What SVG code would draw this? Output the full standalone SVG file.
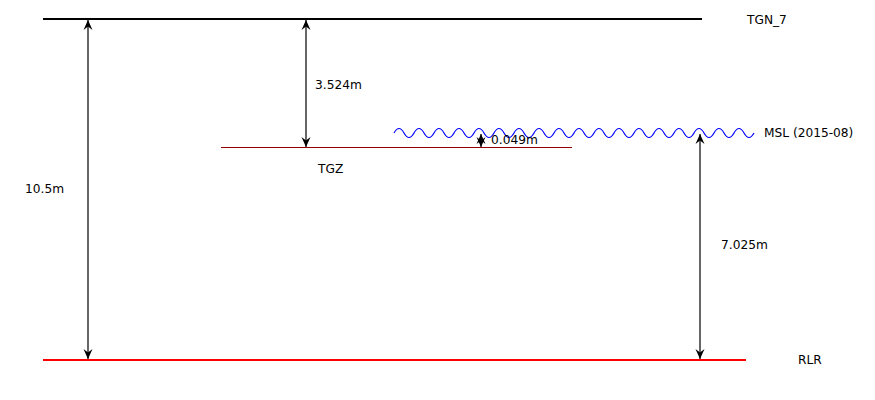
<svg xmlns="http://www.w3.org/2000/svg" width="875" height="400" viewBox="0 0 875 400">
<style>
text{font-family:"DejaVu Sans",sans-serif;font-size:12.2px;fill:#000}
.dim{stroke:#000;stroke-width:1.2;fill:none;marker-start:url(#ah);marker-end:url(#ah)}
</style>
<defs>
<marker id="ah" markerUnits="userSpaceOnUse" markerWidth="14" markerHeight="12" viewBox="-11 -6 12 12" refX="0" refY="0" orient="auto-start-reverse">
<path d="M0,0 L-10,-4.5 L-6.5,0 L-10,4.5 Z" fill="#000"/>
</marker>
</defs>
<rect width="875" height="400" fill="#fff"/>
<g id="TGN_7">
<line x1="43" y1="19" x2="702" y2="19" stroke="#000" stroke-width="2"/>
<text x="747" y="24">TGN_7</text>
</g>
<g id="RLR">
<line x1="43" y1="360" x2="746" y2="360" stroke="#f00" stroke-width="2"/>
<text x="798" y="364">RLR</text>
</g>
<g id="TGZ">
<line x1="221" y1="147.5" x2="572" y2="147.5" stroke="#990000" stroke-width="1"/>
<text x="318" y="173">TGZ</text>
</g>
<g id="MSL">
<path d="M394,133 q5,-9 10,0 t10,0 t10,0 t10,0 t10,0 t10,0 t10,0 t10,0 t10,0 t10,0 t10,0 t10,0 t10,0 t10,0 t10,0 t10,0 t10,0 t10,0 t10,0 t10,0 t10,0 t10,0 t10,0 t10,0 t10,0 t10,0 t10,0 t10,0 t10,0 t10,0 t10,0 t10,0 t10,0 t10,0 t10,0 t10,0" fill="none" stroke="#00f" stroke-width="1.2"/>
<text x="764" y="137">MSL (2015-08)</text>
</g>
<g id="connectors">
<line class="dim" x1="88" y1="20" x2="88" y2="359"/>
<line class="dim" x1="306" y1="20" x2="306" y2="147"/>
<line class="dim" x1="700" y1="134" x2="700" y2="359"/>
<line class="dim" x1="481" y1="134" x2="481" y2="147"/>
</g>
<g id="labels">
<text x="25" y="193">10.5m</text>
<text x="315" y="89">3.524m</text>
<text x="491" y="144">0.049m</text>
<text x="721" y="249">7.025m</text>
</g>
</svg>
